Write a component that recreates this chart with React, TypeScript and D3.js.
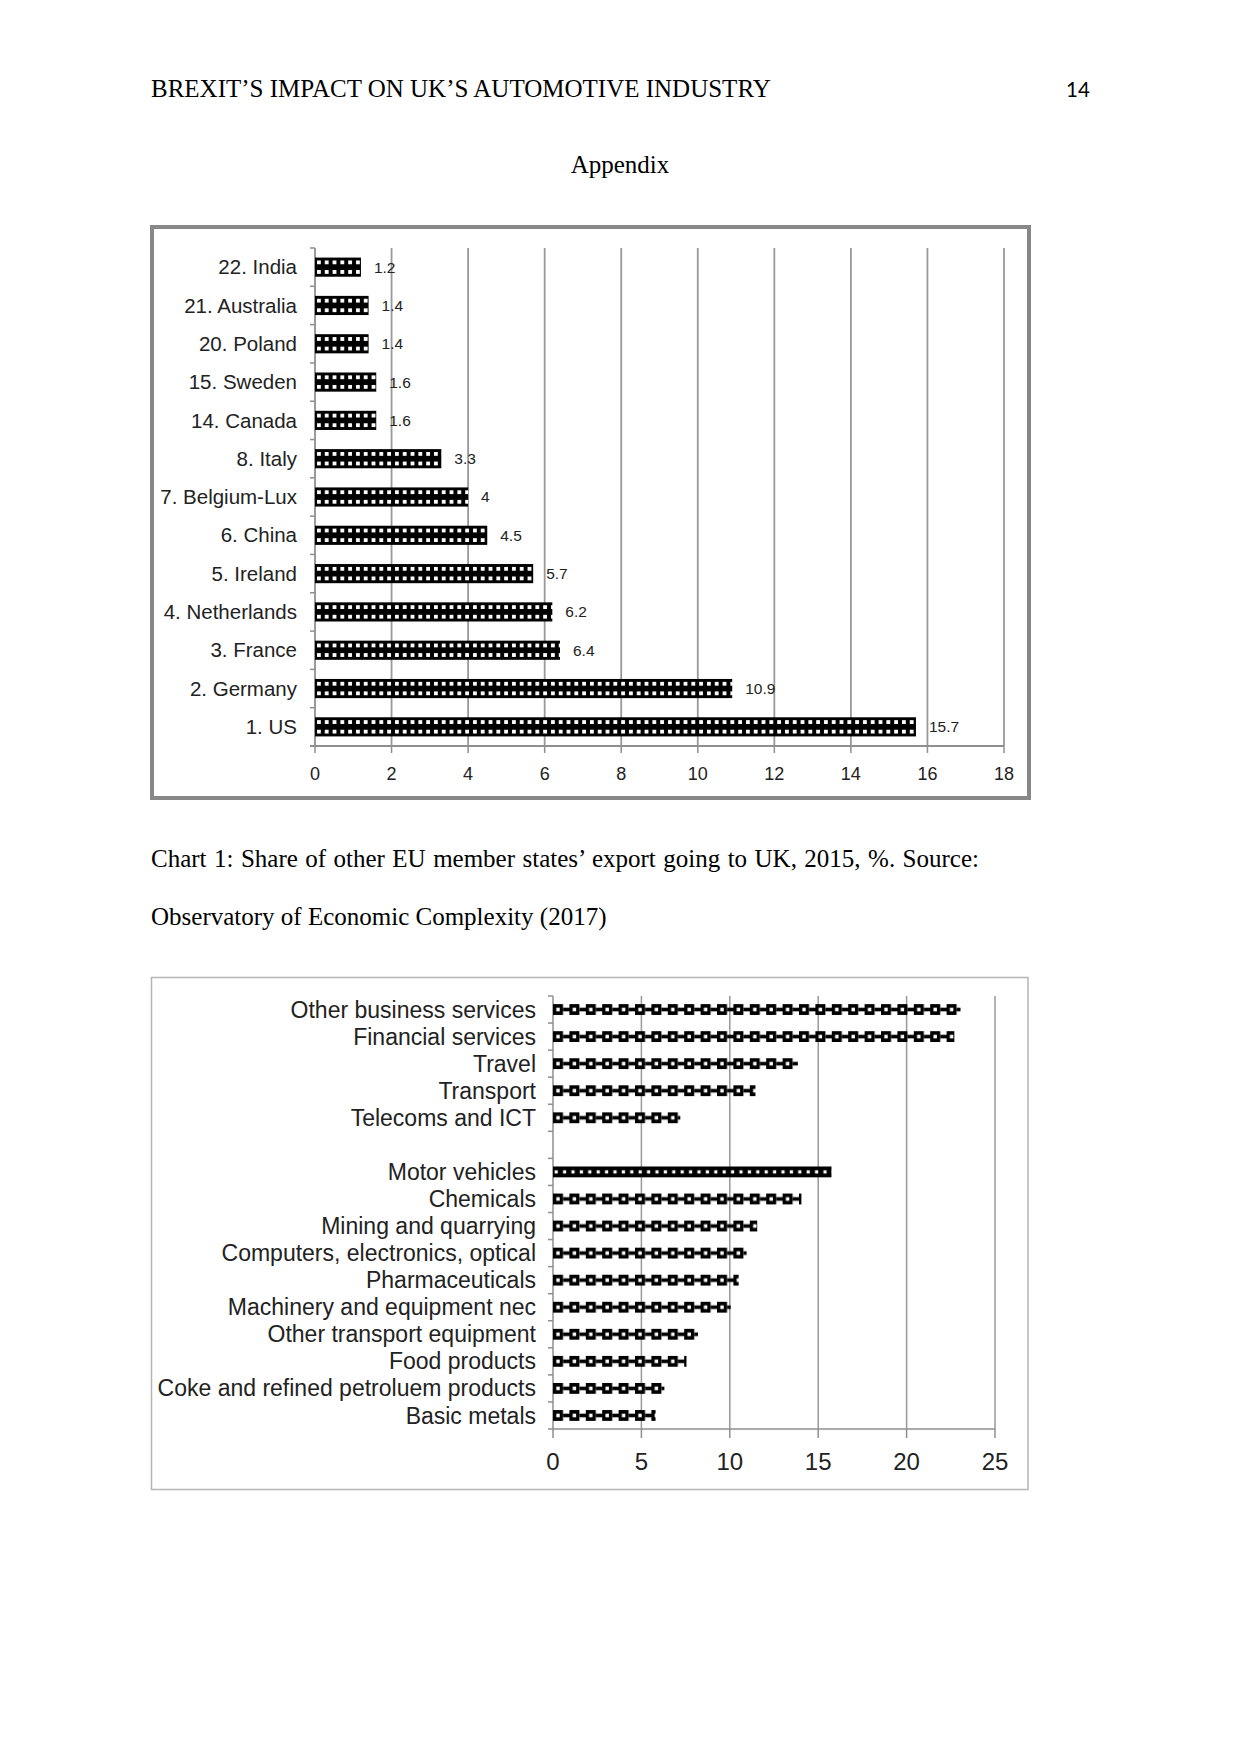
import React from "react";
import * as d3 from "d3";

const countries = [
  "22. India", "21. Australia", "20. Poland", "15. Sweden", "14. Canada", "8. Italy",
  "7. Belgium-Lux", "6. China", "5. Ireland", "4. Netherlands", "3. France", "2. Germany", "1. US",
];
const shares = [1.2, 1.4, 1.4, 1.6, 1.6, 3.3, 4, 4.5, 5.7, 6.2, 6.4, 10.9, 15.7];
const shareLabels = ["1.2", "1.4", "1.4", "1.6", "1.6", "3.3", "4", "4.5", "5.7", "6.2", "6.4", "10.9", "15.7"];
const shareTicks = [0, 2, 4, 6, 8, 10, 12, 14, 16, 18];

const sectors = [
  "Other business services", "Financial services", "Travel", "Transport", "Telecoms and ICT", "",
  "Motor vehicles", "Chemicals", "Mining and quarrying", "Computers, electronics, optical",
  "Pharmaceuticals", "Machinery and equipment nec", "Other transport equipment", "Food products",
  "Coke and refined petroluem products", "Basic metals",
];
const sectorValues: (number | null)[] = [
  23.05, 22.7, 13.85, 11.45, 7.2, null, 15.75, 14.05, 11.55, 10.95, 10.5, 10.05, 8.2, 7.55, 6.3, 5.8,
];
const sectorTicks = [0, 5, 10, 15, 20, 25];

const SANS = "'Liberation Sans', Arial, Helvetica, sans-serif";
const SERIF = "'Liberation Serif', 'Times New Roman', serif";
const TEXT = "#222";
const AXIS = "#8f8f8f";

export default function App() {
  // Chart 1
  const x1 = d3.scaleLinear().domain([0, 18]).range([315, 1004]);
  const y1 = d3.scaleBand<string>().domain(countries).range([248, 746]).paddingInner(0.5).paddingOuter(0.25);
  const step1 = y1.step();
  const bounds1 = d3.range(countries.length + 1).map((i) => 248 + i * step1);

  // Chart 2
  const x2 = d3.scaleLinear().domain([0, 25]).range([553, 995]);
  const y2 = d3.scaleBand<string>().domain(sectors).range([996, 1429]).paddingInner(0.6).paddingOuter(0.3);
  const step2 = y2.step();
  const bounds2 = d3.range(sectors.length + 1).map((i) => 996 + i * step2);

  const bh1 = y1.bandwidth();
  const bh2 = y2.bandwidth();
  const ph1 = bh1 / 2;

  return (
    <svg
      width={1241}
      height={1754}
      viewBox="0 0 1241 1754"
      style={{ position: "absolute", left: 0, top: 0, background: "#fff" }}
    >
      <defs>
        {countries.map((c, i) => (
          <pattern
            key={"p1" + i}
            id={"p1-" + i}
            patternUnits="userSpaceOnUse"
            x={x1(0)}
            y={y1(c)!}
            width={7.8}
            height={ph1}
          >
            <rect x={0} y={0} width={7.8} height={ph1} fill="#000" />
            <rect x={2.0} y={ph1 / 2 - 1.9} width={3.8} height={3.8} fill="#fff" />
          </pattern>
        ))}
        {sectors.map((s, i) => (
          <pattern
            key={"p2" + i}
            id={"p2-" + i}
            patternUnits="userSpaceOnUse"
            x={x2(0)}
            y={y2(s)!}
            width={s === "Motor vehicles" ? 8.4 : 16.4}
            height={bh2}
          >
            {s === "Motor vehicles" ? (
              <>
                <rect x={0} y={0} width={8.4} height={bh2} fill="#000" />
                <rect x={1.6} y={bh2 / 2 - 1.6} width={3.2} height={3.2} fill="#fff" />
              </>
            ) : (
              <>
                <rect x={0} y={0} width={10} height={bh2} fill="#000" />
                <rect x={3.3} y={bh2 / 2 - 1.8} width={3.4} height={3.6} fill="#fff" />
                <rect x={10} y={bh2 / 2 - 1.8} width={6.4} height={3.6} fill="#000" />
              </>
            )}
          </pattern>
        ))}
      </defs>

      {/* Page header */}
      <text x={151} y={97} fontFamily={SERIF} fontSize={25} fill="#000">
        BREXIT’S IMPACT ON UK’S AUTOMOTIVE INDUSTRY
      </text>
      <text x={1066} y={97} fontFamily="Lato, 'Noto Sans', sans-serif" fontSize={20.5} fill="#000">
        14
      </text>
      <text x={620} y={173} textAnchor="middle" fontFamily={SERIF} fontSize={25} fill="#000">
        Appendix
      </text>

      {/* Chart 1 frame */}
      <rect x={152} y={227} width={877} height={571} fill="#fff" stroke="#888" strokeWidth={4} />

      {/* Chart 1 gridlines */}
      {shareTicks.slice(1).map((t) => (
        <line key={"g1" + t} x1={x1(t)} x2={x1(t)} y1={248} y2={746} stroke="#999" strokeWidth={1.8} />
      ))}
      {/* Chart 1 axes */}
      <line x1={x1(0)} x2={x1(0)} y1={248} y2={746} stroke={AXIS} strokeWidth={1.8} />
      {bounds1.map((b, i) => (
        <line key={"t1y" + i} x1={x1(0) - 5} x2={x1(0)} y1={b} y2={b} stroke={AXIS} strokeWidth={1.5} />
      ))}
      <line x1={x1(0) - 5} x2={x1(18)} y1={746} y2={746} stroke={AXIS} strokeWidth={1.8} />
      {shareTicks.map((t) => (
        <line key={"t1x" + t} x1={x1(t)} x2={x1(t)} y1={746} y2={753} stroke={AXIS} strokeWidth={1.5} />
      ))}
      {shareTicks.map((t) => (
        <text key={"l1x" + t} x={x1(t)} y={774} dy="0.35em" textAnchor="middle" fontFamily={SANS} fontSize={18} fill={TEXT}>
          {t}
        </text>
      ))}

      {/* Chart 1 bars */}
      {countries.map((c, i) => (
        <g key={"b1" + i}>
          <rect x={x1(0)} y={y1(c)!} width={x1(shares[i]) - x1(0)} height={bh1} fill={`url(#p1-${i})`} />
          <text x={297} y={y1(c)! + bh1 / 2} dy="0.35em" textAnchor="end" fontFamily={SANS} fontSize={20.5} fill={TEXT}>
            {c}
          </text>
          <text x={x1(shares[i]) + 13} y={y1(c)! + bh1 / 2} dy="0.35em" fontFamily={SANS} fontSize={15.5} fill={TEXT}>
            {shareLabels[i]}
          </text>
        </g>
      ))}

      {/* Caption */}
      <text x={151} y={867} fontFamily={SERIF} fontSize={25} wordSpacing={1.2} fill="#000">
        Chart 1: Share of other EU member states’ export going to UK, 2015, %. Source:
      </text>
      <text x={151} y={925} fontFamily={SERIF} fontSize={25} fill="#000">
        Observatory of Economic Complexity (2017)
      </text>

      {/* Chart 2 frame */}
      <rect x={151.5} y={977.5} width={876.5} height={512} fill="#fff" stroke="#b5b5b5" strokeWidth={1.5} />

      {sectorTicks.slice(1).map((t) => (
        <line key={"g2" + t} x1={x2(t)} x2={x2(t)} y1={996} y2={1429} stroke="#999" strokeWidth={1.5} />
      ))}
      <line x1={x2(0)} x2={x2(0)} y1={996} y2={1429} stroke={AXIS} strokeWidth={1.5} />
      {bounds2.map((b, i) => (
        <line key={"t2y" + i} x1={x2(0) - 5} x2={x2(0)} y1={b} y2={b} stroke={AXIS} strokeWidth={1.5} />
      ))}
      <line x1={x2(0)} x2={x2(25)} y1={1429} y2={1429} stroke={AXIS} strokeWidth={1.5} />
      {sectorTicks.map((t) => (
        <line key={"t2x" + t} x1={x2(t)} x2={x2(t)} y1={1429} y2={1438} stroke={AXIS} strokeWidth={1.5} />
      ))}
      {sectorTicks.map((t) => (
        <text key={"l2x" + t} x={x2(t)} y={1462} dy="0.35em" textAnchor="middle" fontFamily={SANS} fontSize={24} fill={TEXT}>
          {t}
        </text>
      ))}

      {sectors.map((s, i) => (
        <g key={"b2" + i}>
          {sectorValues[i] !== null && (
            <rect
              x={x2(0)}
              y={y2(s)!}
              width={x2(sectorValues[i] as number) - x2(0)}
              height={bh2}
              fill={`url(#p2-${i})`}
            />
          )}
          {s !== "" && (
            <text x={536} y={y2(s)! + bh2 / 2} dy="0.35em" textAnchor="end" fontFamily={SANS} fontSize={23} fill={TEXT}>
              {s}
            </text>
          )}
        </g>
      ))}
    </svg>
  );
}
